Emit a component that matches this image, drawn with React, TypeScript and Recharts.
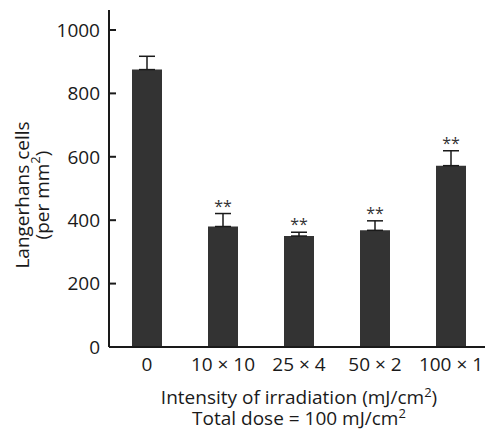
import { Bar, BarChart, ErrorBar, LabelList, XAxis, YAxis } from "recharts";

const FONT = "'Open Sans', sans-serif";
const INK = "#1a1a1a";
const BAR = "#333333";
const FS = 19;

const categories = ["0", "10 × 10", "25 × 4", "50 × 2", "100 × 1"];
const cells = [875, 380, 350, 368, 572];
const sem = [42, 41, 12, 30, 47];
const stars = ["", "**", "**", "**", "**"];
const yTicks = [0, 200, 400, 600, 800, 1000];
const bandTicks = [1, 2, 3, 4];

const data = categories.map((c, i) => ({
  group: c,
  cells: cells[i],
  err: [0, sem[i]],
}));

function StarLabel(props: any) {
  const { x, y, width, height, value, index } = props;
  if (!stars[index]) return null;
  const perUnit = height / value;
  const top = y - sem[index] * perUnit;
  return (
    <text
      x={x + width / 2}
      y={top - 2}
      textAnchor="middle"
      fontSize={16}
      fontFamily={FONT}
      fill={BAR}
    >
      {stars[index]}
    </text>
  );
}

function XTitle(props: any) {
  const { x, width, y } = props.viewBox;
  const cx = x + width / 2;
  return (
    <text textAnchor="middle" fontSize={FS} fontFamily={FONT} fill={INK}>
      <tspan x={cx} y={y + 57}>
        Intensity of irradiation (mJ/cm
        <tspan dy={-7} fontSize={13}>2</tspan>
        <tspan dy={7}>)</tspan>
      </tspan>
      <tspan x={cx} y={y + 78}>
        Total dose = 100 mJ/cm
        <tspan dy={-7} fontSize={13}>2</tspan>
      </tspan>
    </text>
  );
}

function YTitle(props: any) {
  const { x } = props.viewBox;
  const cy = 195;
  return (
    <g fontSize={FS} fontFamily={FONT} fill={INK} textAnchor="middle">
      <text x={x + 22} y={cy} dominantBaseline="central" transform={`rotate(-90 ${x + 22} ${cy})`}>
        Langerhans cells
      </text>
      <text x={x + 42} y={cy} dominantBaseline="central" transform={`rotate(-90 ${x + 42} ${cy})`}>
        (per mm
        <tspan dy={-7} fontSize={13}>2</tspan>
        <tspan dy={7}>)</tspan>
      </text>
    </g>
  );
}

export default function App() {
  return (
    <div style={{ position: "absolute", left: 0, top: 0, background: "#fff" }}>
      <BarChart
        width={485}
        height={433}
        data={data}
        margin={{ top: 10, right: -4, left: 0, bottom: 0 }}
        barCategoryGap={0}
      >
        <XAxis
          xAxisId="band"
          type="number"
          domain={[0, 5]}
          ticks={bandTicks}
          height={0}
          tickSize={-6}
          tickFormatter={() => ""}
          axisLine={false}
          tickLine={{ stroke: INK, strokeWidth: 2 }}
        />
        <XAxis
          dataKey="group"
          height={86}
          tickLine={false}
          axisLine={{ stroke: INK, strokeWidth: 2 }}
          tick={{ fontSize: FS, fontFamily: FONT, fill: INK }}
          tickMargin={5}
          interval={0}
          label={<XTitle />}
        />
        <YAxis
          width={109}
          domain={[0, 1063]}
          ticks={yTicks}
          allowDataOverflow
          tickSize={-7}
          tickMargin={16}
          axisLine={{ stroke: INK, strokeWidth: 2 }}
          tickLine={{ stroke: INK, strokeWidth: 2 }}
          tick={{ fontSize: FS, fontFamily: FONT, fill: INK }}
          label={<YTitle />}
        />
        <Bar dataKey="cells" fill={BAR} barSize={30} isAnimationActive={false}>
          <ErrorBar dataKey="err" direction="y" width={8} stroke={INK} strokeWidth={1.5} />
          <LabelList dataKey="cells" content={<StarLabel />} />
        </Bar>
      </BarChart>
    </div>
  );
}
